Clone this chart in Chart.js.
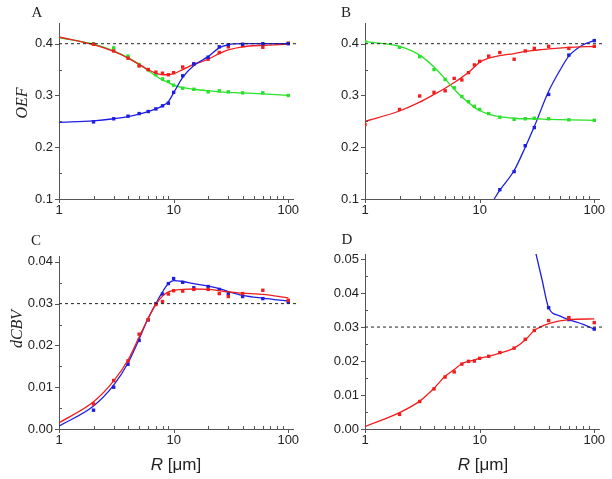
<!DOCTYPE html>
<html>
<head>
<meta charset="utf-8">
<script src="https://cdn.jsdelivr.net/npm/chart.js@4.4.1/dist/chart.umd.min.js"></script>
<style>
body { margin: 0; background: #fff; }
#wrap { position: relative; width: 612px; height: 479px; overflow: hidden; }
#wrap canvas { position: absolute; }
.t { position: absolute; color: #222; white-space: nowrap; transform: translate(-50%, -50%); }
.letter { font-family: "Liberation Serif", serif; font-size: 15px; }
.ylab { font-family: "Liberation Serif", serif; font-style: italic; font-size: 16px; transform: translate(-50%, -50%) rotate(-90deg); }
.xlab { font-family: "Liberation Sans", Arial, sans-serif; font-size: 17px; }
</style>
</head>
<body>
<div id="wrap">
  <canvas id="chartA" width="306" height="225" style="left:0;top:0"></canvas>
  <canvas id="chartB" width="306" height="225" style="left:306px;top:0"></canvas>
  <canvas id="chartC" width="306" height="254" style="left:0;top:225px"></canvas>
  <canvas id="chartD" width="306" height="254" style="left:306px;top:225px"></canvas>
  <div class="t letter" style="left:37px;top:12px">A</div>
  <div class="t letter" style="left:346px;top:12px">B</div>
  <div class="t letter" style="left:36px;top:240px">C</div>
  <div class="t letter" style="left:347px;top:239px">D</div>
  <div class="t ylab" style="left:22px;top:103px">OEF</div>
  <div class="t ylab" style="left:17px;top:329px">dCBV</div>
  <div class="t xlab" style="left:176px;top:465px"><i>R</i> [μm]</div>
  <div class="t xlab" style="left:483px;top:465px"><i>R</i> [μm]</div>
</div>
<script>
// radius values (µm) used for both the simulated points and the fitted curves
const R = [1, 2, 3, 4, 5, 6, 7, 8, 9, 10, 12, 15, 20, 25, 30, 40, 60, 100];

// panel A - OEF
const aRedFit   = [0.413, 0.398, 0.385, 0.372, 0.360, 0.350, 0.343, 0.340, 0.340, 0.342, 0.350, 0.360, 0.370, 0.381, 0.388, 0.394, 0.397, 0.399];
const aRedPts   = [null, 0.399, 0.386, 0.372, 0.357, 0.350, 0.345, 0.343, 0.340, 0.344, 0.355, 0.361, 0.370, 0.383, 0.394, 0.396, 0.393, 0.401];
const aGreenFit = [0.412, 0.399, 0.386, 0.373, 0.360, 0.348, 0.338, 0.330, 0.325, 0.320, 0.315, 0.312, 0.309, 0.307, 0.306, 0.305, 0.303, 0.300];
const aGreenPts = [null, 0.400, 0.392, 0.376, 0.360, 0.350, 0.340, 0.332, 0.327, 0.320, 0.314, 0.312, 0.307, 0.309, 0.307, 0.305, 0.305, 0.300];
const aBlueFit  = [0.248, 0.251, 0.255, 0.259, 0.264, 0.269, 0.274, 0.280, 0.288, 0.305, 0.335, 0.358, 0.375, 0.392, 0.398, 0.400, 0.400, 0.400];
const aBluePts  = [null, 0.249, 0.255, 0.260, 0.265, 0.269, 0.274, 0.280, 0.285, 0.306, 0.338, 0.361, 0.374, 0.394, 0.398, 0.399, 0.400, 0.400];

// panel B - OEF
const bGreenFit = [0.404, 0.395, 0.378, 0.355, 0.332, 0.312, 0.297, 0.286, 0.277, 0.271, 0.264, 0.259, 0.256, 0.255, 0.255, 0.254, 0.253, 0.252];
const bGreenPts = [0.404, 0.393, 0.375, 0.350, 0.331, 0.315, 0.298, 0.288, 0.279, 0.273, 0.265, 0.258, 0.254, 0.255, 0.256, 0.255, 0.253, 0.252];
const bRedFit   = [0.250, 0.270, 0.287, 0.302, 0.314, 0.325, 0.335, 0.345, 0.355, 0.364, 0.372, 0.377, 0.381, 0.385, 0.387, 0.390, 0.393, 0.395];
const bRedPts   = [0.244, 0.273, 0.299, 0.306, 0.309, 0.333, 0.330, 0.344, 0.359, 0.366, 0.376, 0.383, 0.370, 0.386, 0.391, 0.395, 0.391, 0.395];
const bBluePts  = [null, null, null, null, null, null, null, null, null, null, null, 0.118, 0.153, 0.203, 0.238, 0.302, 0.378, 0.406];
const bBlueFitR = [13.4, 15, 20, 25, 30, 40, 50, 60, 80, 100];
const bBlueFit  = [0.100, 0.117, 0.155, 0.200, 0.240, 0.308, 0.348, 0.376, 0.398, 0.406];

// panel C - dCBV
const cBlueFit = [0.0007, 0.0055, 0.0105, 0.0158, 0.0215, 0.0265, 0.0300, 0.0328, 0.0348, 0.0355, 0.0353, 0.0348, 0.0342, 0.0336, 0.0329, 0.0320, 0.0313, 0.0306];
const cBluePts = [null, 0.0045, 0.0100, 0.0155, 0.0212, 0.0261, 0.0300, 0.0323, 0.0348, 0.0360, 0.0351, 0.0338, 0.0341, 0.0334, 0.0324, 0.0317, 0.0312, 0.0304];
const cRedFit  = [0.0015, 0.0065, 0.0115, 0.0165, 0.0220, 0.0265, 0.0298, 0.0318, 0.0328, 0.0332, 0.0334, 0.0335, 0.0334, 0.0331, 0.0328, 0.0325, 0.0322, 0.0314];
const cRedPts  = [null, 0.0060, 0.0116, 0.0163, 0.0227, 0.0262, 0.0298, 0.0305, 0.0323, 0.0331, 0.0330, 0.0334, 0.0334, 0.0324, 0.0317, 0.0324, 0.0332, 0.0308];

// panel D - dCBV
const dRedFit   = [0.0007, 0.0048, 0.0082, 0.0120, 0.0155, 0.0175, 0.0192, 0.0199, 0.0203, 0.0208, 0.0214, 0.0223, 0.0238, 0.0262, 0.0290, 0.0310, 0.0322, 0.0324];
const dRedPts   = [null, 0.0043, 0.0081, 0.0118, 0.0153, 0.0168, 0.0191, 0.0199, 0.0200, 0.0208, 0.0214, 0.0225, 0.0238, 0.0264, 0.0290, 0.0319, 0.0328, 0.0313];
const dBluePts  = [null, null, null, null, null, null, null, null, null, null, null, null, null, null, null, 0.0357, 0.0322, 0.0294];
const dBlueFitR = [31, 35, 40, 50, 60, 80, 100];
const dBlueFit  = [0.0516, 0.0440, 0.0357, 0.0333, 0.0322, 0.0308, 0.0294];

// axis ticks
const xMajor = [1, 10, 100];
const xMinor = [2, 3, 4, 5, 6, 7, 8, 9, 20, 30, 40, 50, 60, 70, 80, 90];
const oefTicks = [0.1, 0.2, 0.3, 0.4];
const oefMinor = [0.15, 0.25, 0.35];
const cTicks = [0.00, 0.01, 0.02, 0.03, 0.04];
const cMinor = [0.005, 0.015, 0.025, 0.035];
const dTicks = [0.00, 0.01, 0.02, 0.03, 0.04, 0.05];
const dMinor = [0.005, 0.015, 0.025, 0.035, 0.045];

const RED = 'rgb(240,30,30)';
const GREEN = 'rgb(40,225,40)';
const BLUE = 'rgb(30,30,225)';
const AXIS = '#555';
const TXT = '#222';

function pairs(xs, ys) {
    return xs.map((x, i) => ({x: x, y: ys[i]})).filter(p => p.y !== null);
}

function fit(xs, ys, color) {
    return {
        type: 'line', data: pairs(xs, ys), borderColor: color, borderWidth: 1.3,
        pointRadius: 0, fill: false, cubicInterpolationMode: 'monotone'
    };
}

function pts(xs, ys, color) {
    return {
        type: 'scatter', data: pairs(xs, ys), backgroundColor: color, borderColor: color,
        pointStyle: 'rect', pointRadius: 2.4, borderWidth: 0, showLine: false
    };
}

function refLine(y) {
    return {
        type: 'line', data: [{x: 1, y: y}, {x: 120, y: y}], borderColor: '#222',
        borderWidth: 1, borderDash: [3, 3], pointRadius: 0, clip: false
    };
}

// small inward minor ticks, outward major ticks
const tickPlugin = {
    id: 'axisTicks',
    afterDraw(chart, args, opts) {
        const {ctx, chartArea: a} = chart;
        const x = chart.scales.x, y = chart.scales.y;
        ctx.save();
        ctx.strokeStyle = AXIS;
        ctx.lineWidth = 1;
        ctx.beginPath();
        xMajor.forEach(v => {
            const px = Math.round(x.getPixelForValue(v)) + 0.5;
            ctx.moveTo(px, a.bottom); ctx.lineTo(px, a.bottom + 4);
        });
        xMinor.forEach(v => {
            const px = Math.round(x.getPixelForValue(v)) + 0.5;
            ctx.moveTo(px, a.bottom); ctx.lineTo(px, a.bottom - 3);
        });
        opts.yMajor.forEach(v => {
            const py = Math.round(y.getPixelForValue(v)) + 0.5;
            ctx.moveTo(a.left, py); ctx.lineTo(a.left - 4, py);
        });
        opts.yMinor.forEach(v => {
            const py = Math.round(y.getPixelForValue(v)) + 0.5;
            ctx.moveTo(a.left, py); ctx.lineTo(a.left + 3, py);
        });
        ctx.stroke();
        ctx.restore();
    }
};

function makePanel(id, cfg) {
    const ctx = document.getElementById(id).getContext('2d');
    return new Chart(ctx, {
        data: {datasets: cfg.datasets},
        options: {
            responsive: false,
            animation: false,
            events: [],
            layout: {padding: {top: cfg.top, right: 13, left: 0, bottom: 0}},
            plugins: {
                legend: {display: false},
                tooltip: {enabled: false},
                axisTicks: {yMajor: cfg.yTicks, yMinor: cfg.yMinor}
            },
            scales: {
                x: {
                    type: 'logarithmic', min: 1, max: 110,
                    grid: {display: false, drawTicks: false},
                    border: {display: true, color: AXIS, width: 1},
                    afterFit(s) { s.height = cfg.bottom; },
                    afterBuildTicks(s) { s.ticks = xMajor.map(v => ({value: v})); },
                    ticks: {
                        autoSkip: false, maxRotation: 0, padding: 4, color: TXT,
                        font: {family: 'Liberation Sans', size: 13},
                        callback: v => String(v)
                    }
                },
                y: {
                    type: 'linear', min: cfg.yMin, max: cfg.yMax,
                    grid: {display: false, drawTicks: false},
                    border: {display: true, color: AXIS, width: 1},
                    afterFit(s) { s.width = 59; },
                    afterBuildTicks(s) { s.ticks = cfg.yTicks.map(v => ({value: v})); },
                    ticks: {
                        padding: 6, color: TXT,
                        font: {family: 'Liberation Sans', size: 13},
                        callback: v => v.toFixed(cfg.digits)
                    }
                }
            }
        },
        plugins: [tickPlugin]
    });
}

makePanel('chartA', {
    top: 23, bottom: 26, yMin: 0.1, yMax: 0.44, digits: 1, yTicks: oefTicks, yMinor: oefMinor,
    datasets: [
        refLine(0.4),
        fit(R, aBlueFit, BLUE), pts(R, aBluePts, BLUE),
        fit(R, aRedFit, RED), pts(R, aRedPts, RED),
        fit(R, aGreenFit, GREEN), pts(R, aGreenPts, GREEN)
    ]
});

makePanel('chartB', {
    top: 23, bottom: 26, yMin: 0.1, yMax: 0.44, digits: 1, yTicks: oefTicks, yMinor: oefMinor,
    datasets: [
        refLine(0.4),
        fit(R, bGreenFit, GREEN), pts(R, bGreenPts, GREEN),
        fit(R, bRedFit, RED), pts(R, bRedPts, RED),
        fit(bBlueFitR, bBlueFit, BLUE), pts(R, bBluePts, BLUE)
    ]
});

makePanel('chartC', {
    top: 31, bottom: 50, yMin: 0, yMax: 0.0414, digits: 2, yTicks: cTicks, yMinor: cMinor,
    datasets: [
        refLine(0.03),
        fit(R, cRedFit, RED), pts(R, cRedPts, RED),
        fit(R, cBlueFit, BLUE), pts(R, cBluePts, BLUE)
    ]
});

makePanel('chartD', {
    top: 29, bottom: 50, yMin: 0, yMax: 0.0515, digits: 2, yTicks: dTicks, yMinor: dMinor,
    datasets: [
        refLine(0.03),
        fit(R, dRedFit, RED), pts(R, dRedPts, RED),
        fit(dBlueFitR, dBlueFit, BLUE), pts(R, dBluePts, BLUE)
    ]
});
</script>
</body>
</html>
